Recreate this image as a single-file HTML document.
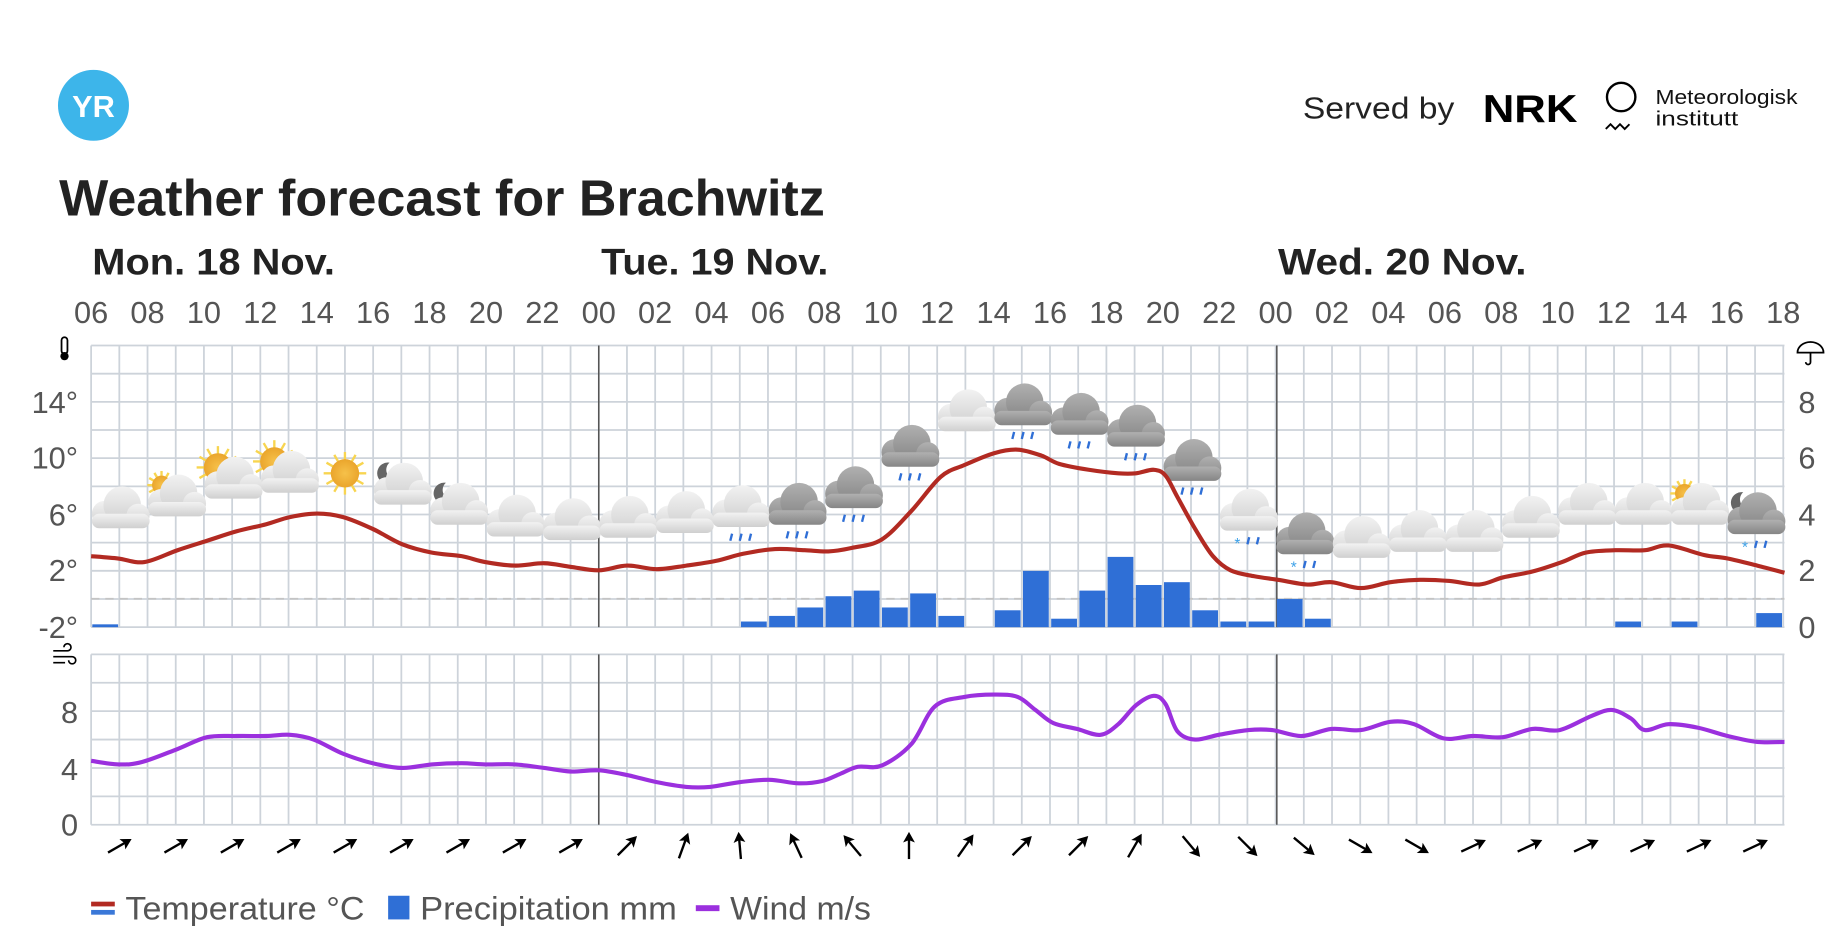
<!DOCTYPE html>
<html><head><meta charset="utf-8"><style>
html,body{margin:0;padding:0;background:#fff;width:1846px;height:949px;overflow:hidden}
svg{display:block}
text{font-family:"Liberation Sans",sans-serif}
</style></head><body>
<svg id="s" width="1846" height="949" viewBox="0 0 1560 802" preserveAspectRatio="none" xmlns="http://www.w3.org/2000/svg">
<defs>
<linearGradient id="cl" x1="0" y1="0" x2="0" y2="1"><stop offset="0" stop-color="#f2f2f2"/><stop offset="1" stop-color="#cfcfcf"/></linearGradient>
<linearGradient id="cd" x1="0" y1="0" x2="0" y2="1"><stop offset="0" stop-color="#b0b0b0"/><stop offset="1" stop-color="#858585"/></linearGradient>
<radialGradient id="sun"><stop offset="0" stop-color="#f6c14a"/><stop offset="1" stop-color="#eaa52c"/></radialGradient>
</defs>
<circle cx="79" cy="89" r="30" fill="#3db5ea"/>
<text x="79" y="99" text-anchor="middle" font-size="26" font-weight="bold" fill="#fff">YR</text>
<text x="1101" y="100" font-size="26" fill="#222" textLength="128" lengthAdjust="spacingAndGlyphs">Served by</text>
<text x="1253" y="103" font-size="33" font-weight="bold" fill="#000" textLength="80" lengthAdjust="spacingAndGlyphs">NRK</text>
<circle cx="1370" cy="82" r="12" fill="none" stroke="#000" stroke-width="2"/>
<path d="M1357 109 l4 -4 l4 4 l4 -4 l4 4 l4 -4" fill="none" stroke="#000" stroke-width="1.6"/>
<text x="1399" y="88" font-size="17" fill="#111" textLength="120" lengthAdjust="spacingAndGlyphs">Meteorologisk</text>
<text x="1399" y="106" font-size="17" fill="#111" textLength="70" lengthAdjust="spacingAndGlyphs">institutt</text>
<text x="50" y="182" font-size="43" font-weight="bold" fill="#222" textLength="647" lengthAdjust="spacingAndGlyphs">Weather forecast for Brachwitz</text>
<text x="78" y="232" font-size="31" font-weight="bold" fill="#222" textLength="205" lengthAdjust="spacingAndGlyphs">Mon. 18 Nov.</text>
<text x="508" y="232" font-size="31" font-weight="bold" fill="#222" textLength="192" lengthAdjust="spacingAndGlyphs">Tue. 19 Nov.</text>
<text x="1080" y="232" font-size="31" font-weight="bold" fill="#222" textLength="210" lengthAdjust="spacingAndGlyphs">Wed. 20 Nov.</text>
<g id="g"></g>
<text x="106" y="777" font-size="27" fill="#555" textLength="202" lengthAdjust="spacingAndGlyphs">Temperature °C</text>
<rect x="77" y="762" width="20" height="4" fill="#b22a22"/><rect x="77" y="769" width="20" height="4" fill="#3a78d8"/>
<rect x="328" y="757" width="18" height="20" fill="#2f6fd6"/>
<text x="355" y="777" font-size="27" fill="#555" textLength="217" lengthAdjust="spacingAndGlyphs">Precipitation mm</text>
<rect x="588" y="765" width="20" height="5" fill="#9b30de"/>
<text x="617" y="777" font-size="27" fill="#555" textLength="119" lengthAdjust="spacingAndGlyphs">Wind m/s</text>
</svg>
<script>
var g=document.getElementById('g'),h='';
function X(i){return 77+23.833*i;}
for(var i=0;i<=60;i++){var x=X(i);h+='<line x1="'+x+'" y1="292" x2="'+x+'" y2="530" stroke="#cdd3da" stroke-width="1.5"/><line x1="'+x+'" y1="553" x2="'+x+'" y2="697" stroke="#cdd3da" stroke-width="1.5"/>';}
for(var k=0;k<=10;k++){var y=292+23.8*k;h+='<line x1="77" y1="'+y+'" x2="1508" y2="'+y+'" stroke="#cdd3da" stroke-width="1.5"/>';}
for(var k=0;k<=6;k++){var y=553+24*k;h+='<line x1="77" y1="'+y+'" x2="1508" y2="'+y+'" stroke="#cdd3da" stroke-width="1.5"/>';}
h+='<line x1="77" y1="506" x2="1508" y2="506" stroke="#c4c4c4" stroke-width="1.5" stroke-dasharray="7,5"/>';
[506,1079].forEach(function(x){h+='<line x1="'+x+'" y1="292" x2="'+x+'" y2="530" stroke="#555" stroke-width="1.3"/><line x1="'+x+'" y1="553" x2="'+x+'" y2="697" stroke="#555" stroke-width="1.3"/>';});
var hrs=['06','08','10','12','14','16','18','20','22','00','02','04','06','08','10','12','14','16','18','20','22','00','02','04','06','08','10','12','14','16','18'];
hrs.forEach(function(t,j){h+='<text x="'+X(2*j)+'" y="273" font-size="26" fill="#555" text-anchor="middle">'+t+'</text>';});
[['14°',340],['10°',387],['6°',435],['2°',482],['-2°',530]].forEach(function(a){h+='<text x="66" y="'+(a[1]+9)+'" font-size="26" fill="#555" text-anchor="end">'+a[0]+'</text>';});
[['8',340],['6',387],['4',435],['2',482],['0',530]].forEach(function(a){h+='<text x="1527" y="'+(a[1]+9)+'" font-size="26" fill="#555" text-anchor="middle">'+a[0]+'</text>';});
[['8',602],['4',650],['0',697]].forEach(function(a){h+='<text x="66" y="'+(a[1]+9)+'" font-size="26" fill="#555" text-anchor="end">'+a[0]+'</text>';});
h+='<rect x="52" y="285" width="5" height="14" rx="2.5" fill="none" stroke="#000" stroke-width="1.5"/><circle cx="54.5" cy="301" r="3.5" fill="#000"/>';
h+='<path d="M1519 298 a11 9 0 0 1 22 0 z M1530 298 v8 a2 2 0 0 1 -4 0" fill="none" stroke="#000" stroke-width="1.5"/>';
h+='<path d="M45 550 h12 a3 3 0 1 0 -3 -3 M45 555 h16 a3 3 0 1 1 -3 3 M45 560 h10" fill="none" stroke="#000" stroke-width="1.4"/>';
var P={0:.1,23:.2,24:.4,25:.7,26:1.1,27:1.3,28:.7,29:1.2,30:.4,32:.6,33:2,34:.3,35:1.3,36:2.5,37:1.5,38:1.6,39:.6,40:.2,41:.2,42:1,43:.3,54:.2,56:.2,59:.5};
for(var i in P){var v=P[i]*23.75;h+='<rect x="'+(X(+i)+1)+'" y="'+(530-v)+'" width="21.8" height="'+v+'" fill="#2f6fd6"/>';}
function smooth(p){var d='M'+p[0][0]+' '+p[0][1];for(var i=0;i<p.length-1;i++){var p0=p[Math.max(i-1,0)],p1=p[i],p2=p[i+1],p3=p[Math.min(i+2,p.length-1)];d+=' C'+(p1[0]+(p2[0]-p0[0])/6)+' '+(p1[1]+(p2[1]-p0[1])/6)+' '+(p2[0]-(p3[0]-p1[0])/6)+' '+(p2[1]-(p3[1]-p1[1])/6)+' '+p2[0]+' '+p2[1];}return d;}
function pts(a){var r=[];for(var i=0;i<a.length;i+=2)r.push([a[i],a[i+1]]);return r;}
var T=pts([77,470,100,472,122,475,150,465,175,457,200,449,225,443,245,437,268,434,290,437,315,447,340,460,365,467,390,470,410,475,435,478,460,476,482,479,506,482,530,478,555,481,580,478,605,474,628,468,655,464,680,465,700,466,720,463,745,456,770,432,795,403,815,393,840,383,860,380,880,385,895,392,920,397,945,400,960,400,975,397,985,402,995,420,1010,447,1025,470,1040,482,1060,487,1080,490,1105,494,1125,492,1150,497,1175,492,1200,490,1225,491,1250,494,1270,488,1295,483,1320,475,1340,467,1365,465,1390,465,1410,461,1440,469,1460,472,1485,478,1508,484]);
var W=pts([77,643,100,646,120,644,150,633,175,623,200,622,225,622,245,621,265,625,290,637,315,645,340,649,365,646,390,645,410,646,435,646,460,649,482,652,506,651,530,655,555,661,580,665,600,665,625,661,650,659,675,662,695,660,710,654,725,648,745,647,770,629,790,597,815,589,840,587,860,589,875,600,890,611,910,616,930,621,945,612,960,596,975,588,985,595,995,618,1010,625,1030,621,1055,617,1075,617,1100,622,1125,616,1150,617,1175,610,1195,612,1220,624,1245,622,1270,623,1295,616,1318,617,1345,605,1362,600,1378,607,1390,617,1410,612,1435,615,1460,622,1485,627,1508,627]);
function cloud(cx,cy,dark){var f=dark?'url(#cd)':'url(#cl)';return '<g fill="'+f+'" transform="translate('+cx+' '+cy+') scale(1.22) translate('+(-cx)+' '+(-cy)+')"><circle cx="'+(cx-10)+'" cy="'+(cy+1)+'" r="9"/><circle cx="'+(cx+2)+'" cy="'+(cy-5)+'" r="13"/><circle cx="'+(cx+13)+'" cy="'+(cy+2)+'" r="8"/><rect x="'+(cx-19)+'" y="'+(cy+1)+'" width="40" height="10" rx="5"/></g>';}
function sun(cx,cy,r){var s='<g>';for(var a=0;a<12;a++){var t=a*Math.PI/6;s+='<line x1="'+cx+'" y1="'+cy+'" x2="'+(cx+Math.cos(t)*r*1.5)+'" y2="'+(cy+Math.sin(t)*r*1.5)+'" stroke="#f8d550" stroke-width="2"/>';}return s+'<circle cx="'+cx+'" cy="'+cy+'" r="'+r+'" fill="url(#sun)"/></g>';}
function moon(cx,cy){return '<path d="M'+(cx+4)+' '+(cy-9)+' a9 9 0 1 0 6 14 a8 8 0 0 1 -6 -14z" fill="#666"/>';}
function rain(cx,cy,snow){var s='';if(snow)s+='<text x="'+(cx-11)+'" y="'+(cy+12)+'" font-size="13" fill="#3aa0e8">*</text>';[[-8,0],[0,0],[8,0]].forEach(function(o,k){if(snow&&k==0)return;s+='<line x1="'+(cx+o[0]+1.5)+'" y1="'+(cy+2)+'" x2="'+(cx+o[0])+'" y2="'+(cy+8)+'" stroke="#2f6fd6" stroke-width="2"/>';});return s;}
var I=[[1,433,'c'],[3,423,'sc'],[5,408,'sc'],[7,403,'sc'],[9,400,'s'],[11,413,'mc'],[13,430,'mc'],[15,440,'c'],[17,443,'c'],[19,441,'c'],[21,437,'c'],[23,432,'cr'],[25,430,'dr'],[27,416,'dr'],[29,381,'dr'],[31,351,'c'],[33,346,'dr'],[35,354,'dr'],[37,364,'dr'],[39,393,'dr'],[41,435,'cs'],[43,455,'ds'],[45,458,'c'],[47,453,'c'],[49,453,'c'],[51,441,'c'],[53,430,'c'],[55,430,'c'],[57,430,'sc'],[59,438,'mds']];
I.forEach(function(a){var cx=X(a[0]),cy=a[1],t=a[2];
 if(t=='s'){h+=sun(cx,cy,12);return;}
 if(t[0]=='s')h+=sun(cx-12,cy-13,t=='sc'&&a[0]<9&&a[0]>3?12:8);
 if(t[0]=='m')h+=moon(cx-14,cy-13);
 h+=cloud(cx,cy,t.indexOf('d')>=0);
 if(t.slice(-1)=='r')h+=rain(cx,cy+17,false);
 if(t=='cs'||t=='ds'||t=='mds')h+=rain(cx,cy+17,true);
});
h+='<path d="'+smooth(T)+'" fill="none" stroke="#b22a22" stroke-width="3.5" stroke-linejoin="round"/>';
h+='<path d="'+smooth(W)+'" fill="none" stroke="#9b30de" stroke-width="3.5" stroke-linejoin="round"/>';
var A=[30,30,30,30,30,30,30,30,30,45,70,95,115,130,90,55,45,45,60,-50,-45,-40,-30,-30,25,25,25,25,25,25];
A.forEach(function(ang,j){var cx=X(2*j+1),cy=715;h+='<g transform="translate('+cx+' '+cy+') rotate('+(-ang)+')"><line x1="-11" y1="0" x2="9" y2="0" stroke="#000" stroke-width="2"/><path d="M12 0 L3 -5 L5 0 L3 5 Z" fill="#000"/></g>';});
g.innerHTML=h;
</script>
</body></html>
